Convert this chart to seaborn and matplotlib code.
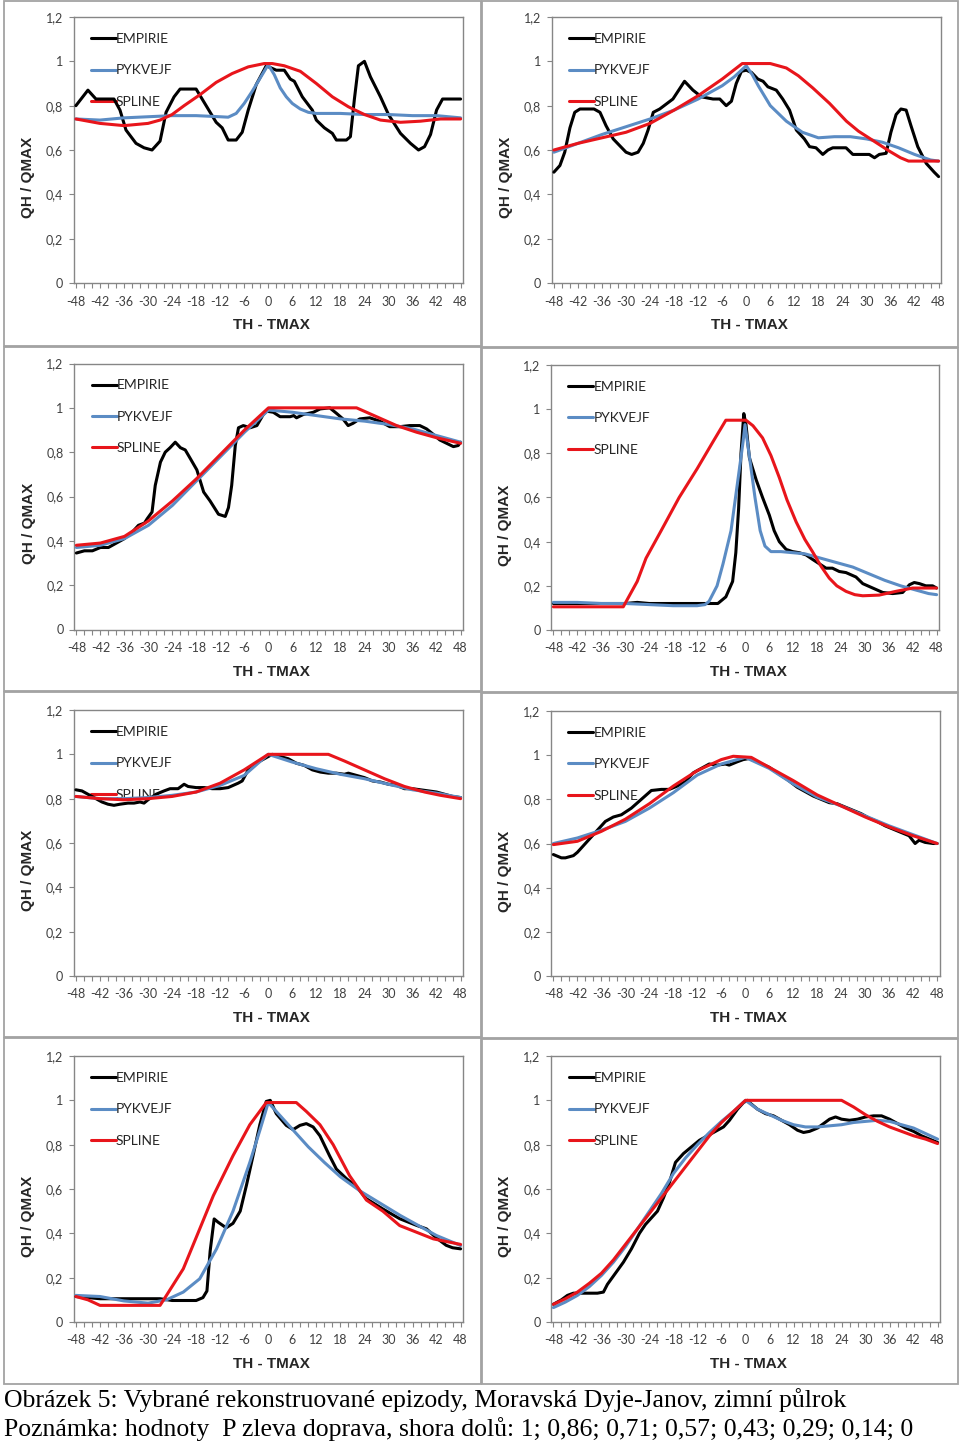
import matplotlib
matplotlib.use("Agg")
import numpy as np
import pandas as pd
import matplotlib.pyplot as plt
import seaborn as sns
from matplotlib.lines import Line2D
from matplotlib.patches import Rectangle
from matplotlib.ticker import MultipleLocator, FuncFormatter

# ---------------- data ----------------
SERIES = ["EMPIRIE", "PYKVEJF", "SPLINE"]
X_TICKS = list(range(-48, 49, 6))
Y_TICKS = [0, 0.2, 0.4, 0.6, 0.8, 1.0, 1.2]
X_LABEL = "TH - TMAX"
Y_LABEL = "QH / QMAX"
CAPTION_1 = "Obrázek 5: Vybrané rekonstruované epizody, Moravská Dyje-Janov, zimní půlrok"
CAPTION_2 = "Poznámka: hodnoty  P zleva doprava, shora dolů: 1; 0,86; 0,71; 0,57; 0,43; 0,29; 0,14; 0"

# panel 1
P1_EMP_X = [-48,-45,-43,-38.5,-37,-35.5,-33,-31,-29,-27,-25.5,-23.5,-22,-18,-15.5,-13,-11.5,-10,-8,-6.5,-5,-3,-0.5,2,4,5.5,6.5,8.5,11,12,14,16,17,19.5,20.5,21.5,22.5,24,25.5,28,30,33,35.5,37.5,39,40.5,42,43.5,48]
P1_EMP_Y = [0.80,0.87,0.83,0.83,0.78,0.69,0.63,0.61,0.60,0.64,0.77,0.84,0.875,0.875,0.80,0.725,0.70,0.645,0.645,0.68,0.78,0.895,0.98,0.96,0.96,0.92,0.91,0.84,0.78,0.735,0.70,0.675,0.645,0.645,0.66,0.83,0.98,1.0,0.93,0.84,0.76,0.675,0.63,0.60,0.615,0.67,0.78,0.83,0.83]
P1_PYK_X = [-48,-42,-36,-30,-24,-18,-12,-10,-8,-6,-4,-2,0,1.5,3,4.5,6,8,10,12,18,24,30,36,42,48]
P1_PYK_Y = [0.74,0.735,0.745,0.75,0.755,0.755,0.75,0.748,0.765,0.81,0.865,0.925,0.985,0.94,0.88,0.84,0.81,0.785,0.77,0.765,0.765,0.76,0.76,0.755,0.755,0.745]
P1_SPL_X = [-48,-42,-36,-30,-27,-24,-21,-17,-13,-9,-5,-1,1,4,8,12,16,20,24,28,33,38,43,48]
P1_SPL_Y = [0.74,0.72,0.71,0.72,0.735,0.76,0.80,0.85,0.905,0.945,0.975,0.99,0.99,0.98,0.955,0.90,0.84,0.795,0.76,0.735,0.725,0.73,0.74,0.74]

# panel 2
P2_EMP_X = [-48,-46.5,-45.3,-44,-42.8,-41.5,-38,-36.5,-35,-33.2,-31.6,-30,-28.6,-27,-25.7,-24.5,-23.2,-21.6,-18.3,-15.4,-13.3,-11.2,-8.3,-6.6,-5,-3.7,-2.5,-1.2,0,1.3,2.9,4.2,5.4,7.5,9.1,10.8,12.5,14.5,15.8,17.4,19.1,20.4,21.6,24.9,26.6,30.7,32,33.2,34.9,36.1,37.4,38.6,39.9,41.1,42.8,44.9,46.9,48]
P2_EMP_Y = [0.50,0.53,0.59,0.70,0.77,0.785,0.785,0.77,0.71,0.65,0.62,0.59,0.58,0.59,0.63,0.69,0.77,0.785,0.83,0.91,0.87,0.84,0.83,0.83,0.80,0.82,0.90,0.955,0.96,0.95,0.92,0.91,0.885,0.87,0.83,0.78,0.69,0.65,0.615,0.61,0.58,0.60,0.61,0.61,0.58,0.58,0.565,0.58,0.585,0.68,0.76,0.785,0.78,0.71,0.615,0.54,0.50,0.48]
P2_PYK_X = [-48,-42,-36,-30,-24,-18,-12,-6,-3,0,1.5,3,6,10,14,18,22,26,30,34,38,42,46,48]
P2_PYK_Y = [0.59,0.63,0.67,0.705,0.74,0.78,0.83,0.89,0.93,0.98,0.94,0.89,0.80,0.73,0.68,0.655,0.66,0.66,0.65,0.635,0.61,0.58,0.555,0.55]
P2_SPL_X = [-48,-42,-36,-30,-24,-18,-12,-6,-1,6,10,13,16.6,20.8,25,28,31,35.7,38.5,40.5,48]
P2_SPL_Y = [0.60,0.63,0.655,0.68,0.72,0.78,0.845,0.92,0.99,0.99,0.97,0.935,0.88,0.81,0.73,0.685,0.65,0.595,0.565,0.55,0.55]

# panel 3
P3_EMP_X = [-48,-46,-44,-42,-40,-38,-36,-34,-32.5,-31,-30.3,-29.1,-28.3,-27,-25.8,-24.6,-23.3,-22,-20.8,-19.5,-17.9,-16.2,-14.6,-12.5,-10.8,-10,-9.2,-8.3,-7.5,-6.3,-4.6,-2.9,-1.3,-0.5,1.2,2.9,5.4,6.3,7,8.7,11.2,12.9,15.3,17,18.6,19.9,21.1,22.8,25.3,27.8,30.3,32.8,35.3,37.8,39.5,41.2,42.8,44.5,46.2,47.4,48]
P3_EMP_Y = [0.345,0.355,0.355,0.37,0.37,0.39,0.41,0.44,0.47,0.48,0.50,0.53,0.65,0.755,0.80,0.82,0.845,0.82,0.81,0.77,0.72,0.62,0.58,0.52,0.51,0.55,0.65,0.83,0.91,0.92,0.91,0.92,0.97,0.985,0.98,0.96,0.96,0.965,0.955,0.97,0.98,0.995,1.0,0.975,0.95,0.92,0.93,0.95,0.955,0.94,0.915,0.915,0.92,0.92,0.905,0.88,0.855,0.84,0.825,0.83,0.845]
P3_PYK_X = [-48,-42,-36,-30,-24,-18,-12,-6,0,6,12,18,24,30,36,42,48]
P3_PYK_Y = [0.37,0.38,0.41,0.47,0.56,0.67,0.78,0.89,0.99,0.98,0.965,0.95,0.94,0.925,0.905,0.875,0.845]
P3_SPL_X = [-48,-42,-36,-30,-24,-18,-12,-6,0,22,27,32,37,42,48]
P3_SPL_Y = [0.38,0.39,0.42,0.49,0.58,0.68,0.79,0.90,1.0,1.0,0.96,0.92,0.89,0.865,0.84]

# panel 4
P4_EMP_X = [-48,-36,-30,-27,-24,-18,-12,-8,-6.8,-4.8,-3.1,-2.3,-1.6,-1,-0.3,0.25,1.1,2.8,4.4,6.1,7.3,8.6,10.3,11.9,13.6,15.3,16.9,18.6,20.3,21.9,23.6,25.3,27.8,29.5,32,34.5,37,39.5,41.2,42.4,43.7,45.3,47,48]
P4_EMP_Y = [0.12,0.12,0.12,0.125,0.12,0.12,0.12,0.12,0.12,0.15,0.22,0.35,0.55,0.80,0.98,0.93,0.78,0.68,0.60,0.52,0.45,0.40,0.365,0.355,0.35,0.34,0.32,0.30,0.28,0.28,0.265,0.26,0.24,0.21,0.19,0.17,0.165,0.17,0.205,0.215,0.21,0.20,0.20,0.19]
P4_PYK_X = [-48,-42,-36,-30,-24,-18,-12,-10,-9,-7,-5.5,-3.5,-2,-0.5,0,1,2.5,3.8,5,6.5,9,12,15,19,23,27,31,35,39,43,46,48]
P4_PYK_Y = [0.125,0.125,0.12,0.12,0.115,0.11,0.11,0.115,0.13,0.20,0.30,0.45,0.65,0.85,0.93,0.80,0.60,0.45,0.38,0.355,0.355,0.35,0.345,0.325,0.305,0.285,0.255,0.225,0.20,0.18,0.165,0.16]
P4_SPL_X = [-48,-36,-30.5,-29.8,-27,-24.8,-21,-16.5,-12,-8.1,-4.8,0.25,2,4.4,6.5,8.6,10.5,12.8,15,16.9,19,21.1,23,25.3,27.5,29.5,33.6,37.8,42,48]
P4_SPL_Y = [0.105,0.105,0.105,0.128,0.22,0.325,0.45,0.60,0.73,0.85,0.95,0.95,0.925,0.87,0.79,0.69,0.59,0.49,0.41,0.355,0.29,0.235,0.20,0.175,0.16,0.155,0.158,0.175,0.19,0.19]

# panel 5
P5_EMP_X = [-48,-46.5,-45,-43,-41.5,-40,-38.5,-37,-35,-33.5,-32,-31,-30,-28,-26,-24.5,-22.5,-21,-20,-18,-16,-14,-12,-10,-7.5,-6.5,-5,-3,0,1,3,5,7,9,11,13,15,17,19,20,22,24,26,28,30,32,34,36,38,40,42,44,46,48]
P5_EMP_Y = [0.84,0.835,0.82,0.80,0.785,0.775,0.77,0.775,0.78,0.78,0.785,0.78,0.795,0.82,0.835,0.845,0.845,0.865,0.855,0.85,0.85,0.845,0.845,0.85,0.87,0.88,0.93,0.96,0.99,1.0,0.99,0.98,0.96,0.95,0.93,0.92,0.915,0.915,0.91,0.915,0.905,0.895,0.88,0.875,0.865,0.86,0.845,0.845,0.84,0.835,0.83,0.82,0.81,0.805]
P5_PYK_X = [-48,-42,-36,-30,-24,-18,-12,-6,0,6,12,18,24,30,36,42,48]
P5_PYK_Y = [0.81,0.80,0.80,0.805,0.815,0.83,0.86,0.905,1.0,0.965,0.935,0.91,0.89,0.865,0.84,0.825,0.805]
P5_SPL_X = [-48,-42,-36,-30,-24,-18,-12,-6,0,15,19,24,29,34,39,43,48]
P5_SPL_Y = [0.81,0.80,0.795,0.80,0.81,0.83,0.87,0.93,1.0,1.0,0.97,0.93,0.89,0.855,0.83,0.815,0.80]

# panel 6
P6_EMP_X = [-48,-46,-45,-43,-42,-40,-38.5,-36.5,-35,-33,-31,-28.5,-26,-23.5,-21,-19,-17,-15,-13,-11,-9,-7,-5,-4,-2,-0.5,1,3,6,8,10.5,13,15,17,19,21,23,25,27,29,31,33,35,37,39,41,42.5,43.5,45,47,48]
P6_EMP_Y = [0.55,0.535,0.535,0.545,0.56,0.60,0.63,0.67,0.70,0.72,0.73,0.76,0.80,0.84,0.845,0.845,0.86,0.88,0.92,0.94,0.96,0.955,0.96,0.955,0.97,0.98,0.985,0.97,0.945,0.92,0.89,0.855,0.835,0.815,0.80,0.785,0.78,0.765,0.75,0.735,0.715,0.70,0.68,0.665,0.65,0.635,0.60,0.615,0.605,0.60,0.60]
P6_PYK_X = [-48,-42,-36,-30,-24,-18,-12,-6,0,6,12,18,24,30,36,42,48]
P6_PYK_Y = [0.60,0.625,0.66,0.70,0.76,0.83,0.91,0.96,0.99,0.94,0.87,0.81,0.77,0.725,0.68,0.64,0.60]
P6_SPL_X = [-48,-42,-36,-30,-24,-18,-12,-6,-3,1.5,6,12,18,24,30,36,42,48]
P6_SPL_Y = [0.595,0.61,0.655,0.71,0.78,0.86,0.93,0.98,0.995,0.99,0.945,0.885,0.82,0.77,0.72,0.675,0.635,0.60]

# panel 7
P7_EMP_X = [-48,-42,-36,-30,-27,-24,-18,-16.3,-15.3,-14.5,-13.5,-12.5,-10.5,-8.8,-7,-5.4,-3.8,-2.1,-0.5,0.5,2,4.5,6.2,7.9,9.5,11.2,12.9,15.3,17,19.5,22,24.5,28.6,32.8,37,39.5,41.9,44.4,46,48]
P7_EMP_Y = [0.115,0.105,0.105,0.105,0.105,0.097,0.097,0.11,0.14,0.32,0.465,0.45,0.425,0.445,0.50,0.62,0.75,0.89,0.995,1.0,0.94,0.887,0.868,0.887,0.895,0.88,0.84,0.75,0.69,0.647,0.61,0.556,0.51,0.466,0.436,0.42,0.38,0.346,0.335,0.33]
P7_PYK_X = [-48,-42,-36,-30,-25.4,-21.2,-17.1,-12.9,-8.8,-4.6,-2,0,3,6,10,14,18,23,28,33,37,42,48]
P7_PYK_Y = [0.12,0.115,0.095,0.085,0.10,0.135,0.195,0.33,0.50,0.72,0.87,0.99,0.93,0.87,0.79,0.72,0.655,0.59,0.535,0.48,0.44,0.39,0.345]
P7_SPL_X = [-48,-45,-42,-36,-30,-27,-25.4,-21.2,-17.1,-13.7,-8.8,-4.6,-0.5,7,9.5,12.9,16.2,20.3,24.5,28.6,32.8,37,41.2,48]
P7_SPL_Y = [0.115,0.10,0.075,0.075,0.075,0.075,0.12,0.24,0.42,0.57,0.75,0.89,0.99,0.99,0.95,0.89,0.80,0.66,0.55,0.50,0.435,0.405,0.375,0.35]

# panel 8
P8_EMP_X = [-48,-46,-44.5,-43,-41,-39,-37,-35.5,-34.5,-32.5,-30.5,-28.5,-26.5,-25,-23.5,-22,-20.5,-19,-17.5,-15.5,-13.5,-11.5,-9.5,-7.5,-5.5,-4,-2,-0.5,0.5,1,3,5,7,9,11,13,14.5,16,18,19.5,21,22.5,24,26,28,30,32,34,36,38,40,42,44,46,48]
P8_EMP_Y = [0.08,0.10,0.12,0.13,0.13,0.13,0.13,0.135,0.17,0.22,0.27,0.33,0.40,0.44,0.47,0.50,0.56,0.63,0.72,0.76,0.79,0.82,0.84,0.86,0.88,0.91,0.96,0.99,1.0,0.99,0.96,0.94,0.93,0.91,0.89,0.865,0.855,0.86,0.875,0.895,0.915,0.925,0.915,0.91,0.915,0.925,0.93,0.93,0.915,0.895,0.875,0.86,0.84,0.825,0.81]
P8_PYK_X = [-48,-45,-42,-39,-36,-33,-30,-27,-24,-21,-18,-15,-12,-9,-6,-3,0,3,6,9,12,15,18,21,24,27,30,33,36,39,42,45,48]
P8_PYK_Y = [0.065,0.09,0.12,0.16,0.21,0.27,0.34,0.42,0.50,0.58,0.67,0.74,0.80,0.855,0.905,0.95,1.0,0.96,0.935,0.91,0.89,0.88,0.88,0.885,0.89,0.90,0.905,0.91,0.905,0.89,0.875,0.85,0.825]
P8_SPL_X = [-48,-45,-42,-39,-36,-33,-30,-27,-24,-21,-18,-15,-12,-9,-6,-3,0,24,27,30,33,36,39,42,45,48]
P8_SPL_Y = [0.08,0.105,0.135,0.175,0.22,0.28,0.35,0.42,0.49,0.56,0.63,0.70,0.77,0.84,0.90,0.95,1.0,1.0,0.97,0.935,0.905,0.88,0.86,0.84,0.825,0.805]

PANELS = [
    [(P1_EMP_X, P1_EMP_Y), (P1_PYK_X, P1_PYK_Y), (P1_SPL_X, P1_SPL_Y)],
    [(P2_EMP_X, P2_EMP_Y), (P2_PYK_X, P2_PYK_Y), (P2_SPL_X, P2_SPL_Y)],
    [(P3_EMP_X, P3_EMP_Y), (P3_PYK_X, P3_PYK_Y), (P3_SPL_X, P3_SPL_Y)],
    [(P4_EMP_X, P4_EMP_Y), (P4_PYK_X, P4_PYK_Y), (P4_SPL_X, P4_SPL_Y)],
    [(P5_EMP_X, P5_EMP_Y), (P5_PYK_X, P5_PYK_Y), (P5_SPL_X, P5_SPL_Y)],
    [(P6_EMP_X, P6_EMP_Y), (P6_PYK_X, P6_PYK_Y), (P6_SPL_X, P6_SPL_Y)],
    [(P7_EMP_X, P7_EMP_Y), (P7_PYK_X, P7_PYK_Y), (P7_SPL_X, P7_SPL_Y)],
    [(P8_EMP_X, P8_EMP_Y), (P8_PYK_X, P8_PYK_Y), (P8_SPL_X, P8_SPL_Y)],
]

# ---------------- style / layout ----------------
COLORS = {"EMPIRIE": "#000000", "PYKVEJF": "#5b8cc4", "SPLINE": "#e8151b"}
LW = 2.2
W, H = 960, 1444
# plot areas in pixels: left, top, right, bottom
AX_BOXES = [(73.5, 17, 463, 283), (551.5, 17, 941, 283),
            (74, 363.5, 463, 629.5), (551, 365, 939, 630),
            (73.5, 710, 463, 976), (551, 711, 939.5, 976),
            (73.5, 1056, 463, 1322), (551, 1056, 940, 1322)]
FRAMES = [(4, 1, 480.5, 345.5), (482, 1, 958, 346.5),
          (4, 346.5, 480.5, 690.5), (482, 348, 958, 692),
          (4, 692, 480.5, 1037), (482, 692.5, 958, 1037.5),
          (4, 1038, 480.5, 1384), (482, 1038.5, 958, 1384)]

sns.set_theme(style="white")
plt.rcParams["font.family"] = ["Lato", "DejaVu Sans"]

fig = plt.figure(figsize=(W / 100, H / 100), dpi=100)
fig.patch.set_facecolor("white")

for (x0, y0, x1, y1) in FRAMES:
    fig.add_artist(Rectangle((x0 / W, 1 - y1 / H), (x1 - x0) / W, (y1 - y0) / H,
                             transform=fig.transFigure, fill=False,
                             edgecolor="#a3a3a3", linewidth=1.3))


def yfmt(v, pos):
    if abs(v) < 1e-9:
        return "0"
    if abs(v - 1) < 1e-9:
        return "1"
    return f"{v:.1f}".replace(".", ",")


for box, panel in zip(AX_BOXES, PANELS):
    l, t, r, b = box
    ax = fig.add_axes([l / W, 1 - b / H, (r - l) / W, (b - t) / H])
    for name, (xs, ys) in zip(SERIES, panel):
        df = pd.DataFrame({"x": xs, "y": ys})
        sns.lineplot(data=df, x="x", y="y", color=COLORS[name], linewidth=LW,
                     ax=ax, estimator=None, sort=False, legend=False, zorder=3)
    ax.set_xlim(-48.6, 48.6)
    ax.set_ylim(0, 1.2)
    ax.set_xticks(X_TICKS)
    ax.set_xticklabels([str(v) for v in X_TICKS])
    ax.xaxis.set_minor_locator(MultipleLocator(2))
    ax.set_yticks(Y_TICKS)
    ax.yaxis.set_major_formatter(FuncFormatter(yfmt))
    for sp in ax.spines.values():
        sp.set_visible(True)
        sp.set_color("#868686")
        sp.set_linewidth(1.0)
    ax.tick_params(axis="both", which="both", direction="out", color="#868686",
                   width=0.8, length=3.5, labelsize=9, labelcolor="#404040", pad=4)
    ax.tick_params(axis="x", which="major", bottom=True, pad=5.5)
    ax.tick_params(axis="x", which="minor", bottom=True, length=3.5)
    ax.tick_params(axis="y", which="major", left=True)
    ax.set_xlabel(X_LABEL, fontfamily="Liberation Sans", fontweight="bold",
                  fontsize=11, color="#262626", va="center")
    ax.set_ylabel(Y_LABEL, fontfamily="Liberation Sans", fontweight="bold",
                  fontsize=11, color="#262626", va="center")
    ph = b - t
    pw = r - l
    ax.xaxis.set_label_coords(0.5 + 3 / pw, -(325 - 283) / ph)
    ax.yaxis.set_label_coords(-(73.5 - 28) / pw, 1 - (177 - 17) / ph)
    handles = [Line2D([], [], color=COLORS[n], linewidth=LW) for n in SERIES]
    leg = ax.legend(handles, SERIES, loc="upper left", bbox_to_anchor=(0.045, 0.94),
                    frameon=False, fontsize=10, handlelength=1.8, handletextpad=0.0,
                    labelspacing=1.4, borderaxespad=0, borderpad=0)
    for txt in leg.get_texts():
        txt.set_color("#262626")
    leg.set_zorder(1)

fig.text(4 / W, 1 - 1400 / H, CAPTION_1, fontfamily="Liberation Serif",
         fontsize=18.5, color="black", va="center", ha="left")
fig.text(4 / W, 1 - 1429 / H, CAPTION_2, fontfamily="Liberation Serif",
         fontsize=18.5, color="black", va="center", ha="left")

fig.savefig("out.png", dpi=100, facecolor="white")
